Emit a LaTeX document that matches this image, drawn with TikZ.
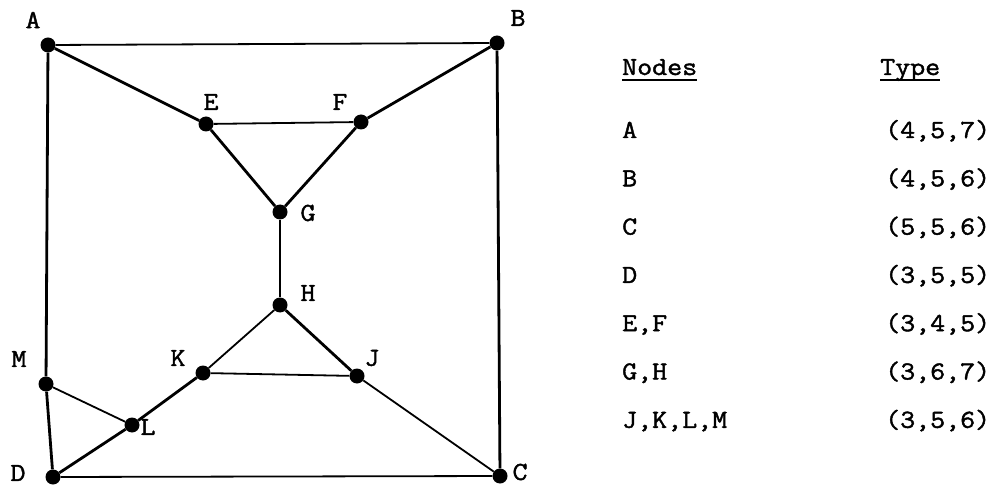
\documentclass[tikz,border=0pt]{standalone}
\usepackage{fontspec}
\newfontfamily\typew{Latin Modern Mono}[FakeStretch=1.12, FakeBold=1.6]
\usepackage{tikz}

\begin{document}
\begin{tikzpicture}[x=1pt, y=-1pt,
  every node/.style={font=\fontsize{26}{30}\selectfont\typew},
  vtx/.style={circle, fill=black, inner sep=0pt, minimum size=15pt},
  heavy/.style={line width=2.8pt},
  light/.style={line width=1.8pt},
  cell/.style={anchor=base west, inner sep=0pt}]
  \useasboundingbox (0,0) rectangle (995,486);
  % vertices
  \node[vtx] (A) at (48,45) {};
  \node[vtx] (B) at (497,43) {};
  \node[vtx] (C) at (500,476) {};
  \node[vtx] (D) at (53,477) {};
  \node[vtx] (E) at (206,124) {};
  \node[vtx] (F) at (361,122) {};
  \node[vtx] (G) at (280,212) {};
  \node[vtx] (H) at (280,305) {};
  \node[vtx] (J) at (357,376) {};
  \node[vtx] (K) at (203,373) {};
  \node[vtx] (L) at (132,425) {};
  \node[vtx] (M) at (46,384) {};
  % vertex letters
  \node (lA) at (33,20) {A};
  \node (lB) at (518,18) {B};
  \node (lC) at (520,472) {C};
  \node (lD) at (18,473) {D};
  \node (lE) at (211,102) {E};
  \node (lF) at (340,102) {F};
  \node (lG) at (308,213) {G};
  \node (lH) at (308,293) {H};
  \node (lJ) at (372,358) {J};
  \node (lK) at (178,358) {K};
  \node (lL) at (148,427) {L};
  \node (lM) at (19,359) {M};
  % edges
  \draw[light] (A) -- (B);
  \draw[heavy] (A) -- (M) -- (D);
  \draw[heavy] (B) -- (C);
  \draw[light] (D) -- (C);
  \draw[heavy] (A) -- (E);
  \draw[heavy] (B) -- (F);
  \draw[light] (E) -- (F);
  \draw[heavy] (E) -- (G);
  \draw[heavy] (F) -- (G);
  \draw[light] (G) -- (H);
  \draw[light] (H) -- (K);
  \draw[heavy] (H) -- (J);
  \draw[light] (K) -- (J);
  \draw[light] (J) -- (C);
  \draw[heavy] (K) -- (L) -- (D);
  \draw[light] (M) -- (L);
  % table
  \node[cell] (hnodes) at (622,75) {Nodes};
  \node[cell] (htype) at (880,75) {Type};
  \draw[line width=1.4pt] ([yshift=-5pt]hnodes.base west) -- ([yshift=-5pt]hnodes.base east);
  \draw[line width=1.4pt] ([yshift=-5pt]htype.base west) -- ([yshift=-5pt]htype.base east);
  \foreach \nm/\ty [count=\i from 0] in {A/{(4,5,7)}, B/{(4,5,6)}, C/{(5,5,6)},
      D/{(3,5,5)}, {E,F}/{(3,4,5)}, {G,H}/{(3,6,7)}, {J,K,L,M}/{(3,5,6)}}{
    \node[cell] (n\i) at (622,138+48.3*\i) {\nm};
    \node[cell] (t\i) at (885,138+48.3*\i) {\ty};
  }
\end{tikzpicture}
\end{document}
